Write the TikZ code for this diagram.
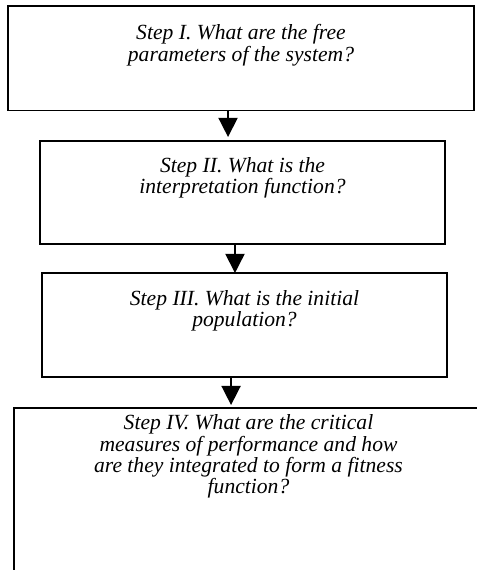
\documentclass[tikz,border=0pt]{standalone}
\usepackage{fontspec}
\setmainfont{Liberation Serif}
\usetikzlibrary{arrows.meta}

\tikzset{
  stepbox/.style={draw, line width=1pt, inner sep=0pt, outer sep=0pt},
  steptext/.style={anchor=north, align=center, inner sep=0pt, font=\fontsize{13.5}{13.4}\selectfont\itshape},
  flow/.style={line width=1pt, -{Triangle[width=12pt,length=12pt]}}
}

\begin{document}
\begin{tikzpicture}[x=0.625pt,y=-0.625pt]

\useasboundingbox (0,0) rectangle (477,570);
\clip (0,0) rectangle (477,570);

% the four boxes
\node[stepbox, minimum width=291.3pt, minimum height=65.3pt] (s1) at (241,58.25) {};
\node[stepbox, minimum width=253.1pt, minimum height=64.4pt] (s2) at (242.5,192.5) {};
\node[stepbox, minimum width=253.1pt, minimum height=65pt] (s3) at (244.5,325) {};
\node[stepbox, minimum width=293.1pt, minimum height=106pt] (s4) at (248.5,493) {};

\node[steptext] (t1) at ([yshift=-11.5pt]s1.north) {Step I. What are the free\\parameters of the system?};
\node[steptext] (t2) at ([yshift=-10pt]s2.north) {Step II. What is the\\interpretation function?};
\node[steptext] (t3) at ([yshift=-10.5pt]s3.north) {Step III. What is the initial\\population?};
\node[steptext] (t4) at ([yshift=-3.8pt]s4.north) {Step IV. What are the critical\\measures of performance and how\\are they integrated to form a fitness\\function?};

% arrows
\coordinate (a1) at ([xshift=-8.1pt]s1.south);
\coordinate (a2) at ([xshift=-4.7pt]s2.south);
\coordinate (a3) at ([xshift=-8.4pt]s3.south);
\draw[flow, shorten >=2.5pt] (a1) -- (a1 |- s2.north);
\draw[flow] (a2) -- (a2 |- s3.north);
\draw[flow, shorten >=2pt] (a3) -- (a3 |- s4.north);

\end{tikzpicture}
\end{document}
